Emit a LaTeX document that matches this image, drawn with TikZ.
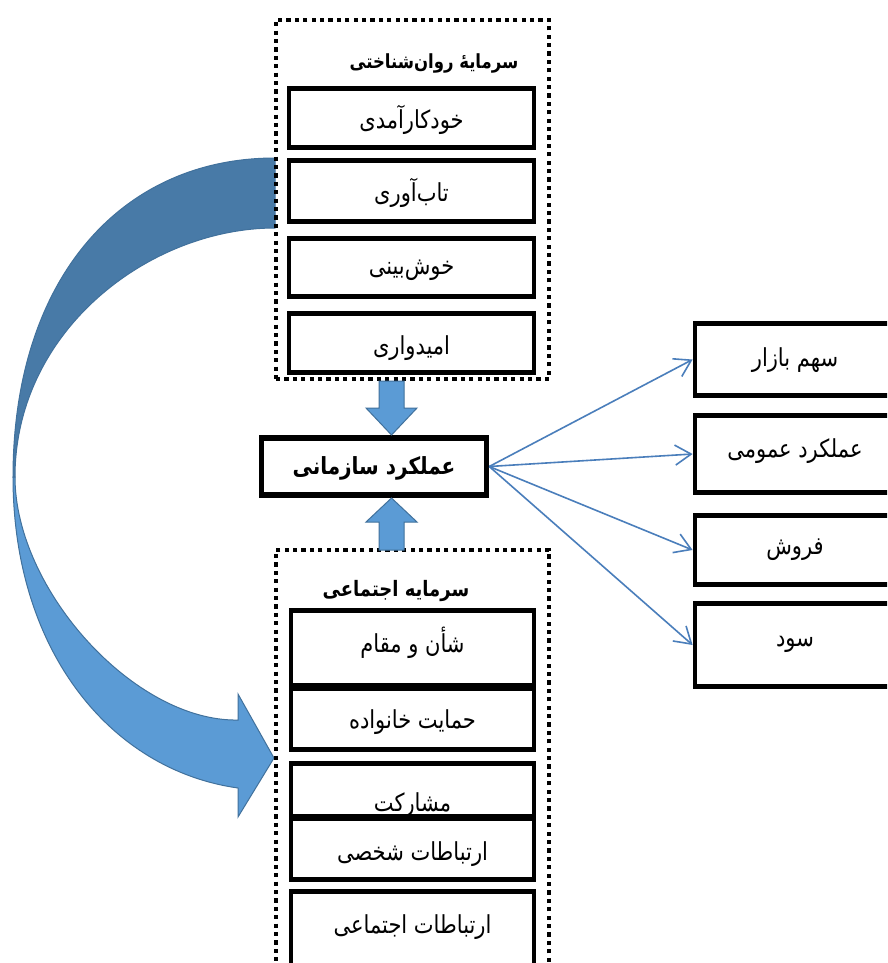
\documentclass[tikz,border=0pt]{standalone}
\usepackage{graphicx}
\usepackage{fontspec}
\newfontfamily\fa[Script=Arabic]{DejaVu Sans}
\TeXXeTstate=1
\usetikzlibrary{arrows.meta}
\definecolor{bandDark}{HTML}{487AA7}
\definecolor{bandLight}{HTML}{5B9BD5}
\definecolor{bandLine}{HTML}{41719C}
\definecolor{connBlue}{HTML}{4A7EBB}
\newcommand\fatxt[1]{\scalebox{1}[1.18]{\beginR #1\endR}}
\tikzset{
  boxed/.style={draw, line width=4.8pt, fill=white, inner sep=0pt, minimum width=#1},
  boxed/.default=245pt,
  plain/.style={font=\fa\fontsize{21}{24}\selectfont, inner sep=0pt},
  boldtxt/.style={font=\fa\bfseries\fontsize{#1}{20}\selectfont, inner sep=0pt},
  groupbox/.style={draw, line width=4.2pt, dash pattern=on 4.2pt off 4.2pt, inner sep=0pt},
  conn/.style={draw=connBlue, line width=1.6pt, -{Straight Barb[length=16pt,width=20pt]}},
  blockarrow/.style={fill=bandLight, draw=bandLine, line width=1pt, line join=miter},
}
\begin{document}
\begin{tikzpicture}[x=1pt,y=-1pt]
\useasboundingbox (0,0) rectangle (887,963);
\clip (0,0) rectangle (887,963);
\fill[white] (0,0) rectangle (887,963);

% big curved arrow
\path[fill=bandDark, draw=bandLine, line width=1pt]
  (275,158) .. controls (120,158) and (13,280) .. (13,477)
  -- (15,477) .. controls (15,330) and (150,228) .. (275,228) -- cycle;
\path[fill=bandLight, draw=bandLine, line width=1pt, line join=miter]
  (15,477) .. controls (15,590) and (135,722) .. (238,720)
  -- (238,694) -- (274,758) -- (238,817) -- (238,788)
  .. controls (110,770) and (13,650) .. (13,477) -- cycle;

% top group
\node[groupbox, minimum width=273pt, minimum height=359pt] (g1) at (412.5,199.5) {};
\node[boldtxt=16.5] (t1) at (434,63) {\fatxt{سرمایه^^^^0654 روان^^^^200cشناختی}};
\node[boxed, minimum height=59pt] (a1) at (411.5,118) {};
\node[plain] (a1t) at (411.5,120) {\fatxt{خودکارآمدی}};
\node[boxed, minimum height=61pt] (a2) at (411.5,191) {};
\node[plain] (a2t) at (411.5,193) {\fatxt{تاب^^^^200cآوری}};
\node[boxed, minimum height=58pt] (a3) at (411.5,267.5) {};
\node[plain] (a3t) at (411.5,270) {\fatxt{خوش^^^^200cبینی}};
\node[boxed, minimum height=59pt] (a4) at (411.5,343) {};
\node[plain] (a4t) at (411.5,348) {\fatxt{امیدواری}};

% bottom group
\node[groupbox, minimum width=273pt, minimum height=458pt] (g2) at (412.5,779) {};
\node[boldtxt=18] (t2) at (396,591) {\fatxt{سرمایه اجتماعی}};
\node[boxed=243pt, minimum height=75pt] (b1) at (412.5,648) {};
\node[plain] (b1t) at (412.5,643) {\fatxt{شأن و مقام}};
\node[boxed=243pt, minimum height=61pt] (b2) at (412.5,719) {};
\node[plain] (b2t) at (412.5,722) {\fatxt{حمایت خانواده}};
\node[boxed=243pt, minimum height=53pt] (b3) at (412.5,790) {};
\node[plain] (b3t) at (412.5,805) {\fatxt{مشارکت}};
\node[boxed=243pt, minimum height=61pt] (b4) at (412.5,849) {};
\node[plain] (b4t) at (412.5,854) {\fatxt{ارتباطات شخصی}};
\node[boxed=243pt, minimum height=106pt] (b5) at (412.5,944.5) {};
\node[plain] (b5t) at (412.5,927) {\fatxt{ارتباطات اجتماعی}};

% centre box
\node[boxed=225pt, line width=5.5pt, minimum height=57pt] (c) at (374,466.5) {};
\node[font=\fa\bfseries\fontsize{20}{23}\selectfont, inner sep=0pt] (ct) at (374,468) {\fatxt{عملکرد سازمانی}};

% block arrows
\path[blockarrow] (379,381) -- (404,381) -- (404,408) -- (417,408) -- (391.5,435) -- (366,408) -- (379,408) -- cycle;
\path[blockarrow] (379,550) -- (404,550) -- (404,522) -- (417,522) -- (391.5,498) -- (366,522) -- (379,522) -- cycle;

% right boxes
\node[boxed=200pt, minimum height=72pt] (r1) at (795,359.5) {};
\node[plain] (r1t) at (795,360) {\fatxt{سهم بازار}};
\node[boxed=200pt, minimum height=77pt] (r2) at (795,454) {};
\node[plain] (r2t) at (795,451) {\fatxt{عملکرد عمومی}};
\node[boxed=200pt, minimum height=69pt] (r3) at (795,550) {};
\node[plain] (r3t) at (795,550) {\fatxt{فروش}};
\node[boxed=200pt, minimum height=83pt] (r4) at (795,645) {};
\node[plain] (r4t) at (795,644) {\fatxt{سود}};

% connectors
\coordinate (src) at (c.east);
\draw[conn] (src) -- (r1.west);
\draw[conn] (src) -- (r2.west);
\draw[conn] (src) -- (r3.west);
\draw[conn] (src) -- (r4.west);
\end{tikzpicture}
\end{document}
